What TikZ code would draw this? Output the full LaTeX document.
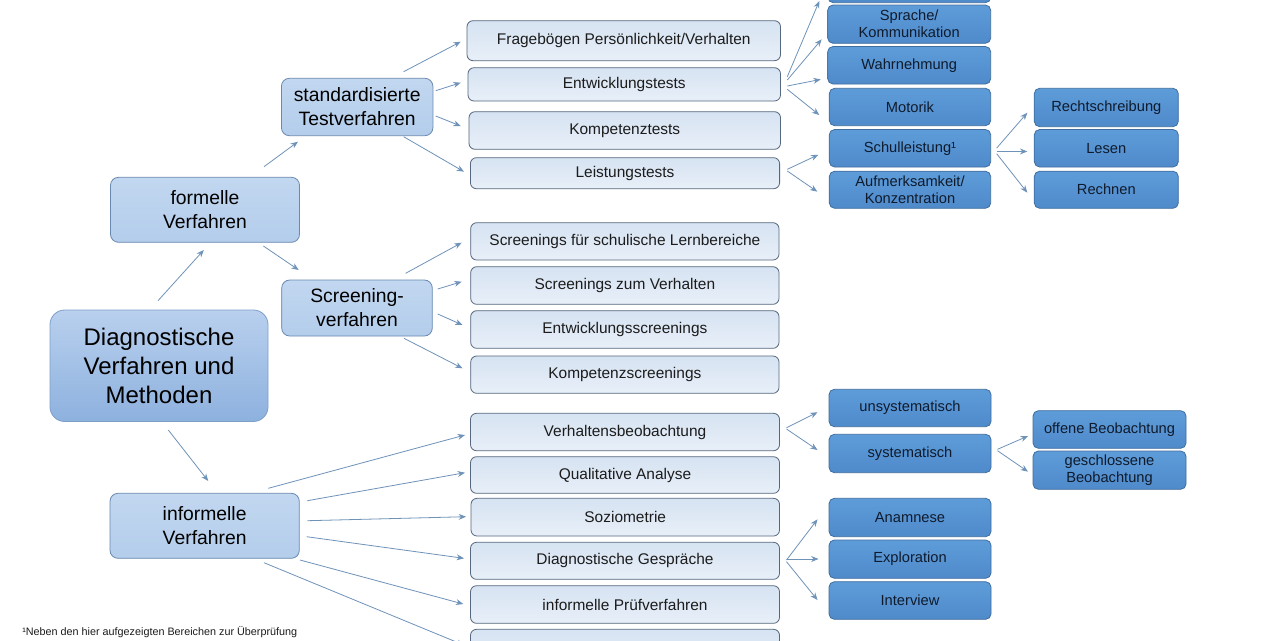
\documentclass[tikz,border=0pt]{standalone}
\usepackage{fontspec}
\setmainfont{Liberation Sans}
\usetikzlibrary{arrows.meta}
\definecolor{arrc}{HTML}{6F92B9}
\definecolor{ltop}{HTML}{D6E3F2}
\definecolor{lbot}{HTML}{E8EFF8}
\definecolor{lbord}{HTML}{56687F}
\definecolor{mtop}{HTML}{C2D7F0}
\definecolor{mbot}{HTML}{B3CDEB}
\definecolor{mbord}{HTML}{6A89B0}
\definecolor{rtop}{HTML}{B9D0EE}
\definecolor{rbot}{HTML}{8DB1DE}
\definecolor{rbord}{HTML}{7E9FC8}
\definecolor{dtop}{HTML}{5E9CD9}
\definecolor{dbot}{HTML}{4F8ACB}
\definecolor{dbord}{HTML}{3F6D9E}
\definecolor{dtext}{HTML}{0F1B2C}
\definecolor{ltext}{HTML}{1C1C1C}
\begin{document}
\begin{tikzpicture}[x=0.75pt,y=-0.75pt,
  pos/.style n args={4}{at={({(#1+#3)/2},{(#2+#4)/2})}, minimum width={(#3-#1)*0.75pt}, minimum height={(#4-#2)*0.75pt}},
  base/.style={inner sep=0pt, outer sep=0pt, align=center, line width=0.6pt},
  lbox/.style={base, rounded corners=4.5pt, draw=lbord, top color=ltop, bottom color=lbot, text=ltext, font=\fontsize{11.6}{13.5}\selectfont},
  mbox/.style={base, rounded corners=6pt, draw=mbord, top color=mtop, bottom color=mbot, text=black, font=\fontsize{14.5}{18}\selectfont},
  rootbox/.style={base, rounded corners=11pt, draw=rbord, top color=rtop, bottom color=rbot, text=black, font=\fontsize{18}{21.75}\selectfont},
  dbox/.style={base, rounded corners=4pt, draw=dbord, top color=dtop, bottom color=dbot, text=dtext, font=\fontsize{11}{12.75}\selectfont},
  arr/.style={draw=arrc, line width=0.6pt, -{Stealth[length=5.5pt,width=4.4pt]}}
]
\useasboundingbox (0,0) rectangle (1280,640);
\fill[white] (0,0) rectangle (1280,640);

% root and level 2
\node[rootbox, pos={50}{310}{268}{421.5}] (M) {Diagnostische\\Verfahren und\\Methoden};
\node[mbox, pos={110.5}{177.3}{299.5}{242.3}] (F) {formelle\\Verfahren};
\node[mbox, pos={110}{493.3}{299.3}{558.3}] (I) {informelle\\Verfahren};
\node[mbox, pos={281.4}{78.3}{432.9}{135.7}] (S) {standardisierte\\Testverfahren};
\node[mbox, pos={281.7}{280}{432.3}{336}] (SC) {Screening-\\verfahren};

% level 3
\node[lbox, pos={467}{20.7}{780.5}{60.7}] (L1) {Fragebögen Persönlichkeit/Verhalten};
\node[lbox, pos={468}{67.7}{780.5}{101}] (L2) {Entwicklungstests};
\node[lbox, pos={469}{111.7}{780.5}{149.3}] (L3) {Kompetenztests};
\node[lbox, pos={470.4}{157.7}{779.6}{188.7}] (L4) {Leistungstests};
\node[lbox, pos={470.7}{222.7}{779}{260}] (L5) {Screenings für schulische Lernbereiche};
\node[lbox, pos={470.7}{266.7}{779}{304.3}] (L6) {Screenings zum Verhalten};
\node[lbox, pos={470.7}{310.7}{779}{348.3}] (L7) {Entwicklungsscreenings};
\node[lbox, pos={470.7}{356}{779}{393.3}] (L8) {Kompetenzscreenings};
\node[lbox, pos={470.5}{413.3}{779.5}{450.7}] (L9) {Verhaltensbeobachtung};
\node[lbox, pos={470.5}{456.7}{779.5}{493.3}] (L10) {Qualitative Analyse};
\node[lbox, pos={471}{498.3}{779.5}{536}] (L11) {Soziometrie};
\node[lbox, pos={470.5}{542.3}{779.5}{579.3}] (L12) {Diagnostische Gespräche};
\node[lbox, pos={470.5}{585.7}{779.5}{623.3}] (L13) {informelle Prüfverfahren};
\node[lbox, pos={470.5}{629.3}{779.5}{667}] (L14) {};

% level 4 (dark)
\node[dbox, pos={828}{-35}{990.7}{2.7}] (D0) {};
\node[dbox, pos={827.7}{5}{990.7}{43.3}] (D1) {Sprache/\\Kommunikation};
\node[dbox, pos={827.7}{46.5}{990.7}{84}] (D2) {Wahrnehmung};
\node[dbox, pos={829.3}{88.3}{990.7}{125.7}] (D3) {Motorik};
\node[dbox, pos={829.3}{129.5}{990.7}{167}] (D4) {Schulleistung¹};
\node[dbox, pos={829.3}{171.2}{990.7}{208.3}] (D5) {Aufmerksamkeit/\\Konzentration};
\node[dbox, pos={1034.3}{88.3}{1178.3}{126.7}] (R1) {Rechtschreibung};
\node[dbox, pos={1034.3}{129.5}{1178.3}{167}] (R2) {Lesen};
\node[dbox, pos={1034.3}{171.2}{1178.3}{208.3}] (R3) {Rechnen};
\node[dbox, pos={829}{389.3}{991}{426.7}] (U1) {unsystematisch};
\node[dbox, pos={829}{434.3}{991}{472.7}] (U2) {systematisch};
\node[dbox, pos={1033}{410.7}{1186}{448.3}] (B1) {offene Beobachtung};
\node[dbox, pos={1033}{451}{1186}{489.3}] (B2) {geschlossene\\Beobachtung};
\node[dbox, pos={829}{498.3}{991}{536.7}] (G1) {Anamnese};
\node[dbox, pos={829}{540}{991}{578.3}] (G2) {Exploration};
\node[dbox, pos={829}{581.7}{991}{619.3}] (G3) {Interview};

% footnote
\node[anchor=west, inner sep=0pt, font=\fontsize{8.1}{9}\selectfont, text=ltext] (fn) at (22,632) {¹Neben den hier aufgezeigten Bereichen zur Überprüfung};

% connectors
\draw[arr] ([shift={(-1,-9.3)}]M.north) -- ([shift={(-1.2,7.7)}]F.south);
\draw[arr] ([shift={(9.3,8.5)}]M.south) -- ([shift={(3.6,-12.3)}]I.north);
\draw[arr] ([shift={(59,-10.6)}]F.north) -- ([shift={(-59.2,6)}]S.south);
\draw[arr] ([shift={(58.4,3.7)}]F.south) -- ([shift={(-58.3,-10)}]SC.north);

\draw[arr] ([shift={(46.5,-6.6)}]S.north) -- ([shift={(-6.3,1)}]L1.west);
\draw[arr] ([shift={(2.8,-16.3)}]S.east) -- ([shift={(-7.3,-1.65)}]L2.west);
\draw[arr] ([shift={(2.8,9)}]S.east) -- ([shift={(-8.3,-4.5)}]L3.west);
\draw[arr] ([shift={(46.5,1)}]S.south) -- ([shift={(-6.4,-1.5)}]L4.west);

\draw[arr] ([shift={(48.6,-6.7)}]SC.north) -- ([shift={(-9.1,1.35)}]L5.west);
\draw[arr] ([shift={(5.4,-19)}]SC.east) -- ([shift={(-9.1,-3.8)}]L6.west);
\draw[arr] ([shift={(5.4,6)}]SC.east) -- ([shift={(-8.2,-4.5)}]L7.west);
\draw[arr] ([shift={(47,2.3)}]SC.south) -- ([shift={(-8.2,-6.35)}]L8.west);

\draw[arr] ([shift={(63.65,-5)}]I.north) -- ([shift={(-5.5,3)}]L9.west);
\draw[arr] ([shift={(8,-25.1)}]I.east) -- ([shift={(-5.5,-2.3)}]L10.west);
\draw[arr] ([shift={(8,-5.1)}]I.east) -- ([shift={(-5,-0.45)}]L11.west);
\draw[arr] ([shift={(7.4,10.9)}]I.east) -- ([shift={(-6.5,-2.5)}]L12.west);
\draw[arr] ([shift={(0.7,1.7)}]I.south east) -- ([shift={(-7.2,-0.5)}]L13.west);
\draw[arr] ([shift={(59.35,4.4)}]I.south) -- ([shift={(-6.5,-3)}]L14.west);

\draw[arr] ([shift={(6.8,-7.65)}]L2.east) -- ([shift={(-8.7,17.15)}]D0.west);
\draw[arr] ([shift={(6.8,-4.35)}]L2.east) -- ([shift={(-6,15.15)}]D1.west);
\draw[arr] ([shift={(6.8,1.65)}]L2.east) -- ([shift={(-7,14.15)}]D2.west);
\draw[arr] ([shift={(6.8,4.95)}]L2.east) -- ([shift={(-10,8)}]D3.west);
\draw[arr] ([shift={(7.7,-3.9)}]L4.east) -- ([shift={(-11,6.5)}]D4.west);
\draw[arr] ([shift={(7.7,-2.2)}]L4.east) -- ([shift={(-12,1.9)}]D5.west);

\draw[arr] ([shift={(6,-0.2)}]D4.east) -- ([shift={(-7,5.2)}]R1.west);
\draw[arr] ([shift={(6,3.2)}]D4.east) -- ([shift={(-7,3.2)}]R2.west);
\draw[arr] ([shift={(6,5.5)}]D4.east) -- ([shift={(-7,2.9)}]R3.west);

\draw[arr] ([shift={(7,-4.3)}]L9.east) -- ([shift={(-11.5,4.3)}]U1.west);
\draw[arr] ([shift={(7,-3)}]L9.east) -- ([shift={(-11.5,-3.5)}]U2.west);
\draw[arr] ([shift={(6.5,-4.2)}]U2.east) -- ([shift={(-5,6.5)}]B1.west);
\draw[arr] ([shift={(6.5,-2.8)}]U2.east) -- ([shift={(-5,1.5)}]B2.west);

\draw[arr] ([shift={(7,-0.8)}]L12.east) -- ([shift={(-11.5,1.8)}]G1.west);
\draw[arr] ([shift={(7,-1.8)}]L12.east) -- ([shift={(-10.5,-0.15)}]G2.west);
\draw[arr] ([shift={(7,0.9)}]L12.east) -- ([shift={(-11.5,-0.5)}]G3.west);
\end{tikzpicture}
\end{document}
